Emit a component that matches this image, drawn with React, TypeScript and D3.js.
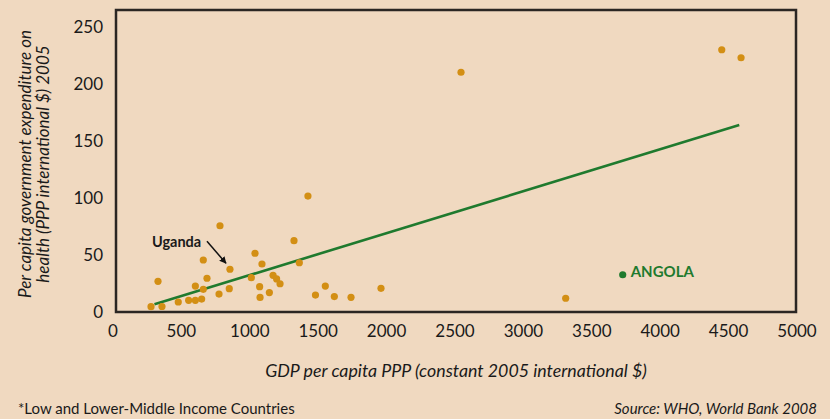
import React from "react";
import * as d3 from "d3";

// ---- data ----
const gdp = [278, 358, 329, 477, 553, 602, 648, 602, 660, 687, 660, 782, 775, 850, 855, 1011, 1038, 1089, 1072, 1075, 1143, 1170, 1196, 1221, 1323, 1362, 1425, 1480, 1552, 1618, 1740, 1959, 2544, 3309, 4450, 4591];
const health = [4.2, 4.4, 26.4, 8.3, 9.8, 9.8, 10.9, 22.3, 19.4, 29.1, 45.1, 75.1, 15.3, 20.0, 37.0, 29.6, 51.0, 41.6, 21.7, 12.3, 16.6, 31.7, 28.5, 24.3, 62.0, 42.7, 101.1, 14.4, 22.3, 13.1, 12.4, 20.3, 209.5, 11.6, 229.2, 222.2];
const uganda = { gdp: 855, health: 37.0, label: "Uganda" };
const angola = { gdp: 3726, health: 32.2, label: "ANGOLA" };
const trendGdp = [303, 4578];
const trendHealth = [6.3, 163.3];
const xTicks = [0, 500, 1000, 1500, 2000, 2500, 3000, 3500, 4000, 4500, 5000];
const yTicks = [0, 50, 100, 150, 200, 250];

const W = 830, H = 419;
const BG = "#f0d9c0";
const ORANGE = "#d38f14";
const GREEN = "#1f7a2e";
const DARK = "#2b2623";
const FONT = "Lato, 'Open Sans', sans-serif";

export default function App() {
  const x = d3.scaleLinear().domain([0, 5000]).range([113, 797]);
  const y = d3.scaleLinear().domain([0, 250]).range([311.5, 26]);
  const line = d3.line<number>().x((_, i) => x(trendGdp[i])).y((_, i) => y(trendHealth[i]));
  const ux = x(uganda.gdp), uy = y(uganda.health);
  const ax = x(angola.gdp), ay = y(angola.health);
  const box = { l: 116, t: 10, r: 796, b: 312 };

  return (
    <svg width={W} height={H} style={{ position: "absolute", left: 0, top: 0 }} fontFamily={FONT}>
      <defs>
        <marker id="ah" viewBox="0 0 10 10" refX="9" refY="5" markerWidth="7" markerHeight="7" orient="auto" markerUnits="userSpaceOnUse">
          <path d="M0,0 L10,5 L0,10 Z" fill="#111" />
        </marker>
      </defs>
      <rect x={0} y={0} width={W} height={H} fill={BG} />
      <rect x={box.l} y={box.t} width={box.r - box.l} height={box.b - box.t} fill="none" stroke={DARK} strokeWidth={2.5} />

      {yTicks.map((t) => (
        <text key={"y" + t} x={103} y={y(t)} textAnchor="end" dominantBaseline="central" fontSize={17} fill="#1a1a1a">{t}</text>
      ))}
      {xTicks.map((t) => (
        <text key={"x" + t} x={x(t)} y={330} textAnchor="middle" dominantBaseline="central" fontSize={17} fill="#1a1a1a">{t}</text>
      ))}

      <g transform="translate(0,164) rotate(-90)" fontStyle="italic" fontSize={17} fill="#1a1a1a" textAnchor="middle">
        <text x={0} y={31}>Per capita government expenditure on</text>
        <text x={0} y={49}>health (PPP international $) 2005</text>
      </g>
      <text x={456} y={376.5} textAnchor="middle" fontStyle="italic" fontSize={17.8} fill="#1a1a1a">GDP per capita PPP (constant 2005 international $)</text>
      <text x={18} y={414} fontSize={15} fill="#1a1a1a">*Low and Lower-Middle Income Countries</text>
      <text x={817} y={414} textAnchor="end" fontStyle="italic" fontSize={15} fill="#1a1a1a">Source: WHO, World Bank 2008</text>

      <path d={line(trendGdp) || ""} fill="none" stroke={GREEN} strokeWidth={2.6} />

      {gdp.map((g, i) => (
        <circle key={i} cx={x(g)} cy={y(health[i])} r={3.6} fill={ORANGE} />
      ))}
      <circle cx={ax} cy={ay} r={3.6} fill={GREEN} />
      <text x={ax + 8} y={ay - 4} dominantBaseline="central" fontSize={15} fontWeight="bold" fill={GREEN}>{angola.label}</text>

      <text x={ux - 78} y={uy - 28} dominantBaseline="central" fontSize={14.5} fontWeight="bold" fill="#1a1a1a">{uganda.label}</text>
      <line x1={ux - 23} y1={uy - 28} x2={ux - 4} y2={uy - 6} stroke="#111" strokeWidth={1.5} markerEnd="url(#ah)" />
    </svg>
  );
}
